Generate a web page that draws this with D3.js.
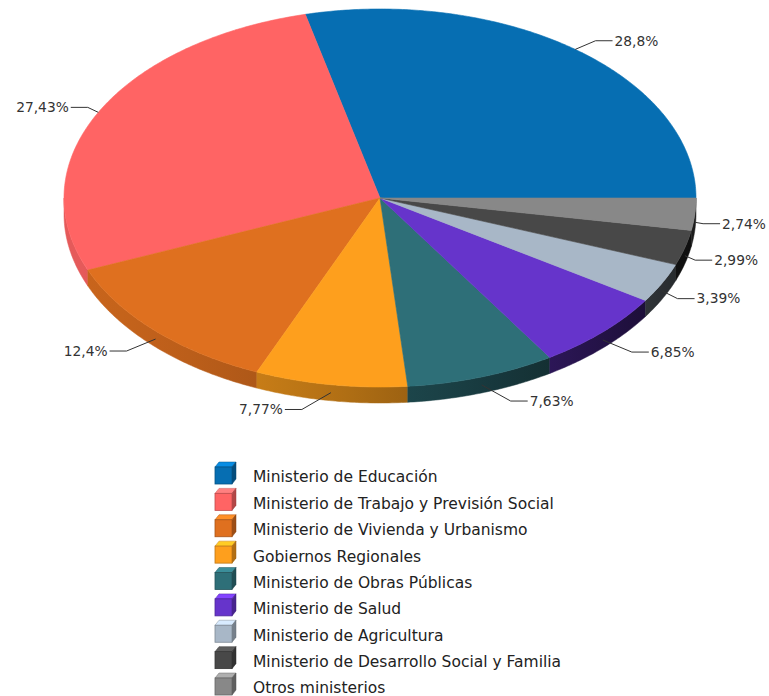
<!DOCTYPE html>
<html>
<head>
<meta charset="utf-8">
<script src="https://cdn.jsdelivr.net/npm/d3@7"></script>
<style>
  html, body { margin: 0; padding: 0; background: #ffffff; }
  svg { display: block; }
  text { font-family: "DejaVu Sans", Verdana, sans-serif; }
</style>
</head>
<body>
<svg id="chart" width="769" height="696"></svg>
<script>
// ---- data ----
const categories = [
  "Ministerio de Educación",
  "Ministerio de Trabajo y Previsión Social",
  "Ministerio de Vivienda y Urbanismo",
  "Gobiernos Regionales",
  "Ministerio de Obras Públicas",
  "Ministerio de Salud",
  "Ministerio de Agricultura",
  "Ministerio de Desarrollo Social y Familia",
  "Otros ministerios"
];
const values = [28.8, 27.43, 12.4, 7.77, 7.63, 6.85, 3.39, 2.99, 2.74];
const valueLabels = ["28,8%", "27,43%", "12,4%", "7,77%", "7,63%", "6,85%", "3,39%", "2,99%", "2,74%"];
const palette = ["#066eb2", "#ff6464", "#df701f", "#fe9f1d", "#2e6f78", "#6634cb", "#a8b7c7", "#484848", "#888888"];

// ---- layout ----
const svg = d3.select("#chart");
const cx = 380, cy = 198, rx = 316, ry = 189, depth = 16;
const TAU = Math.PI * 2;

const pie = d3.pie().sort(null).value(d => d).startAngle(0).endAngle(TAU);
const arcs = pie(values);

const ex = t => cx + rx * Math.cos(t);
const ey = t => cy - ry * Math.sin(t);
const line = d3.line();

function sample(a0, a1) {
  const n = Math.max(2, Math.ceil(Math.abs(a1 - a0) / 0.01));
  return d3.range(n + 1).map(i => a0 + (a1 - a0) * i / n);
}

// shade factor for side walls as a function of x
const shadeScale = x => {
  const t = Math.max(0, Math.min(1, (x - (cx - rx)) / (2 * rx)));
  return 0.9 - 0.7 * Math.pow(t, 1.5);
};
function scaleColor(c, f) {
  const col = d3.rgb(c);
  return d3.rgb(col.r * f, col.g * f, col.b * f).formatHex();
}

const defs = svg.append("defs");

// ---- side walls (visible lower half: angles PI..2PI) ----
const gSide = svg.append("g");
arcs.forEach((a, i) => {
  const s = Math.max(a.startAngle, Math.PI);
  const e = Math.min(a.endAngle, TAU);
  if (e <= s) return;
  const ts = sample(s, e);
  const top = ts.map(t => [ex(t), ey(t)]);
  const bot = ts.slice().reverse().map(t => [ex(t), ey(t) + depth]);
  const x0 = d3.min(top, p => p[0]), x1 = d3.max(top, p => p[0]);
  const gid = "side" + i;
  const grad = defs.append("linearGradient").attr("id", gid)
    .attr("gradientUnits", "userSpaceOnUse")
    .attr("x1", x0).attr("x2", x1).attr("y1", 0).attr("y2", 0);
  d3.range(6).forEach(k => {
    const x = x0 + (x1 - x0) * k / 5;
    grad.append("stop").attr("offset", k / 5).attr("stop-color", scaleColor(palette[i], shadeScale(x)));
  });
  gSide.append("path")
    .attr("d", line(top.concat(bot)) + "Z")
    .attr("fill", `url(#${gid})`)
    .attr("stroke", `url(#${gid})`)
    .attr("stroke-width", 0.5);
});

// ---- top faces ----
const gTop = svg.append("g");
arcs.forEach((a, i) => {
  const pts = [[cx, cy]].concat(sample(a.startAngle, a.endAngle).map(t => [ex(t), ey(t)]));
  gTop.append("path")
    .attr("d", line(pts) + "Z")
    .attr("fill", palette[i])
    .attr("stroke", palette[i])
    .attr("stroke-width", 0.6)
    .attr("stroke-linejoin", "round");
});

// ---- data labels ----
const gLab = svg.append("g");
arcs.forEach((a, i) => {
  const m = (a.startAngle + a.endAngle) / 2;
  const sn = Math.sin(m), cs = Math.cos(m);
  const off = sn < 0 ? depth / 2 : 0;
  const ax = ex(m), ay = ey(m) + off;
  const ly = cy - (ry + (sn < 0 ? 17 : 11)) * sn + off;
  const sign = cs >= 0 ? 1 : -1;
  const dy = ly - cy - off;
  const eRy = dy > 0 ? 240 : 215;
  const sq = Math.sqrt(Math.max(0, 1 - (dy / eRy) * (dy / eRy)));
  const ellX = cx + sign * 341 * sq;
  const endX = sign > 0 ? Math.min(ax + 46, ellX) : Math.max(ax - 46, ellX);
  let bendX = endX - sign * 17;
  if (sign > 0) bendX = Math.max(bendX, ax + 6); else bendX = Math.min(bendX, ax - 6);
  gLab.append("path")
    .attr("d", line([[endX, ly], [bendX, ly], [ax, ay]]))
    .attr("fill", "none")
    .attr("stroke", "#333333")
    .attr("stroke-width", 1);
  gLab.append("text")
    .attr("x", endX + sign * 2)
    .attr("y", ly)
    .attr("dy", "0.35em")
    .attr("text-anchor", sign > 0 ? "start" : "end")
    .attr("font-size", 13.8)
    .attr("fill", "#333333")
    .text(valueLabels[i]);
});

// ---- legend ----
const legendY = d3.scalePoint().domain(categories).range([477, 688]);
const gLeg = svg.append("g");
categories.forEach((c, i) => {
  const y = legendY(c);
  const x = 215, s = 17, d = 4;
  const top = y - 10;
  const g = gLeg.append("g");
  g.append("path")
    .attr("d", line([[x, top], [x + d, top - 5], [x + s + d, top - 5], [x + s, top]]) + "Z")
    .attr("fill", d3.color(palette[i]).brighter(0.7).formatHex())
    .attr("stroke", scaleColor(palette[i], 0.8)).attr("stroke-width", 0.5);
  g.append("path")
    .attr("d", line([[x + s, top], [x + s + d, top - 5], [x + s + d, top + s - 5], [x + s, top + s]]) + "Z")
    .attr("fill", scaleColor(palette[i], 0.7))
    .attr("stroke", scaleColor(palette[i], 0.6)).attr("stroke-width", 0.5);
  g.append("rect")
    .attr("x", x).attr("y", top).attr("width", s).attr("height", s)
    .attr("fill", palette[i])
    .attr("stroke", scaleColor(palette[i], 0.75)).attr("stroke-width", 0.8);
  gLeg.append("text")
    .attr("x", 253)
    .attr("y", y)
    .attr("dy", "0.35em")
    .attr("font-size", 15.5)
    .attr("fill", "#222222")
    .text(c);
});
</script>
</body>
</html>
